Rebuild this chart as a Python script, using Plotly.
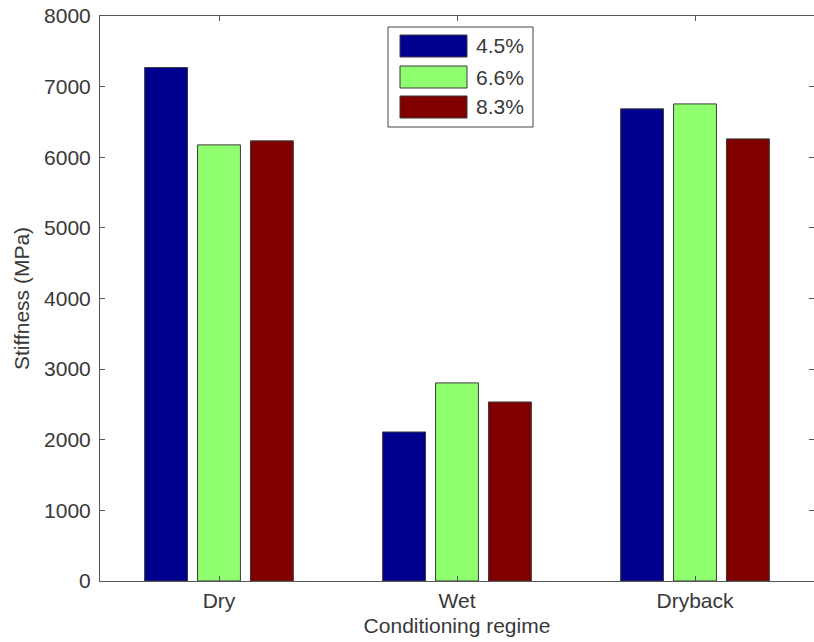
import plotly.graph_objects as go

categories = ["Dry", "Wet", "Dryback"]
series_names = ["4.5%", "6.6%", "8.3%"]
s45 = [7270, 2110, 6685]
s66 = [6175, 2805, 6755]
s83 = [6232, 2535, 6260]
y_ticks = [0, 1000, 2000, 3000, 4000, 5000, 6000, 7000, 8000]

colors = ["#00008F", "#8FFF70", "#800000"]
edge = "#3a3a3a"

W, H = 814, 642
L, R, T, B = 100, 0, 16, 61
PW, PH = W - L - R, H - T - B

def px(x):
    return (x - L) / PW

def py(y):
    return (H - B - y) / PH

fig = go.Figure()
for name, vals, c in zip(series_names, [s45, s66, s83], colors):
    fig.add_trace(go.Bar(x=[1, 2, 3], y=vals, name=name, marker=dict(color=c, line=dict(color=edge, width=1)),
                         showlegend=False))

font = "Liberation Sans, Arial, sans-serif"
tc = "#383838"
ax_col = "#555555"

fig.update_layout(
    width=W, height=H,
    margin=dict(l=L, r=R, t=T, b=B, autoexpand=False),
    paper_bgcolor="white", plot_bgcolor="white",
    barmode="group", bargap=0.333, bargroupgap=0.19,
    font=dict(family=font, color=tc, size=21),
    xaxis=dict(range=[0.5, 3.5], tickvals=[1, 2, 3], ticktext=categories,
               ticks="inside", ticklen=5, tickcolor=ax_col, showline=True, linecolor=ax_col,
               linewidth=1, mirror="ticks", showgrid=False, zeroline=False,
               tickfont=dict(size=21, color=tc), ticklabelstandoff=1,
               title=dict(text="Conditioning regime", font=dict(size=21, color=tc), standoff=7)),
    yaxis=dict(range=[0, 8000], tickvals=y_ticks, ticks="inside", ticklen=5, tickcolor=ax_col,
               showline=True, linecolor=ax_col, linewidth=1, mirror="ticks", showgrid=False,
               zeroline=False, tickfont=dict(size=21, color=tc), ticklabelstandoff=4,
               title=dict(text="Stiffness (MPa)", font=dict(size=21, color=tc), standoff=8)),
)

# legend box drawn manually (MATLAB style)
shapes = [dict(type="rect", xref="paper", yref="paper", x0=px(388), x1=px(533), y0=py(127), y1=py(27),
               line=dict(color="#444444", width=1), fillcolor="white", layer="above")]
rows = [(35, 57), (66, 88), (96, 118)]
for (y0, y1), c, name in zip(rows, colors, series_names):
    shapes.append(dict(type="rect", xref="paper", yref="paper", x0=px(400), x1=px(467), y0=py(y1), y1=py(y0),
                       line=dict(color=edge, width=1), fillcolor=c, layer="above"))
    fig.add_annotation(xref="paper", yref="paper", x=px(474), y=py((y0 + y1) / 2), text=name,
                       showarrow=False, xanchor="left", yanchor="middle",
                       font=dict(size=21, color=tc, family=font))
fig.update_layout(shapes=shapes)

fig.write_html("out.html", config={"displayModeBar": False},
               post_script="document.body.style.margin='0';document.body.style.overflow='hidden';")
